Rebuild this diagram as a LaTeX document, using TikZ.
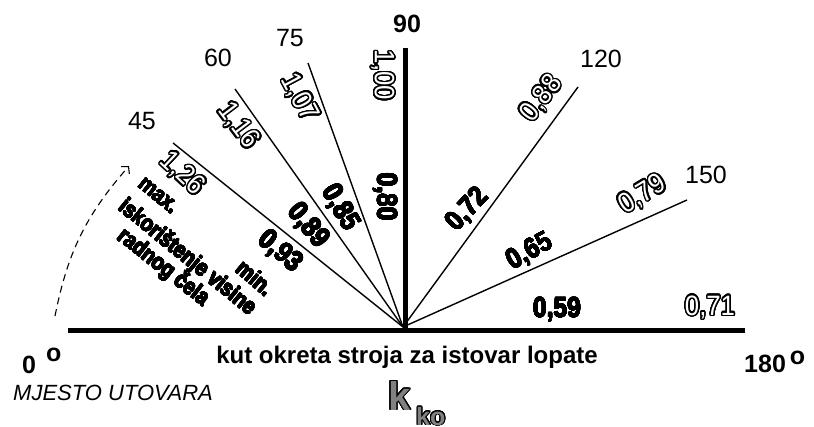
\documentclass[tikz,border=0pt]{standalone}
\usepackage{fontspec}
\setmainfont{Liberation Sans}
\usepackage[copies]{contour}
\usetikzlibrary{arrows.meta}
\contournumber{32}
\newcommand{\outl}[1]{{\contourlength{1.5pt}\textcolor{white}{\contour{black}{#1}}}}
\newcommand{\heavy}[1]{{\contourlength{0.45pt}\contour{black}{#1}}}
\begin{document}
\begin{tikzpicture}[x=1pt,y=-1pt,
  axisline/.style={line width=5pt},
  ray/.style={line width=1.4pt},
  deglbl/.style={font=\fontsize{25}{28}\selectfont, inner sep=0pt},
  bdeg/.style={font=\bfseries\fontsize{25}{28}\selectfont, inner sep=0pt},
  bnum/.style={font=\bfseries\fontsize{28}{30}\selectfont, inner sep=0pt},
  onum/.style={font=\fontsize{28}{30}\selectfont, inner sep=0pt},
  bword/.style={font=\bfseries\fontsize{23}{25}\selectfont, inner sep=0pt}]
\useasboundingbox (0,0) rectangle (814,427);
% axes
\coordinate (O) at (403,327);
\coordinate (hl) at (68,330.5);
\coordinate (hr) at (745,330.5);
\coordinate (vt) at (405.5,48);
\coordinate (vb) at (405.5,333);
\draw[axisline] (hl) -- (hr);
\draw[axisline, line width=5.5pt] (vb) -- (vt);
% rays
\coordinate (e45) at (173,143);
\coordinate (e60) at (235,89);
\coordinate (e75) at (308,63);
\coordinate (e120) at (578,87);
\coordinate (e150) at (687,200);
\foreach \e in {e45,e60,e75,e120,e150} \draw[ray] (O) -- (\e);
% dashed arrow
\coordinate (as) at (55,316);
\coordinate (ae) at (129,166);
\draw[line width=1.1pt, dash pattern=on 7pt off 5pt, -{Straight Barb[length=5pt,width=11pt]}] (as) to[bend left=15] (ae);
% angle labels
\node[deglbl, anchor=base] (d45) at (142,130) {45};
\node[deglbl, anchor=base] (d60) at (218,67) {60};
\node[deglbl, anchor=base] (d75) at (290,47) {75};
\node[bdeg, anchor=base] (d90) at (407,33) {90};
\node[deglbl, anchor=base] (d120) at (601,68) {120};
\node[deglbl, anchor=base] (d150) at (706,184) {150};
\node[bdeg, anchor=base west] (d0) at (22,374) {0\hspace{10pt}\raisebox{12pt}{o}};
\node[bdeg, anchor=base west] (d180) at (744,373) {180\hspace{4pt}\raisebox{8pt}{o}};
% axis texts
\node[font=\bfseries\fontsize{24}{26}\selectfont, inner sep=0pt, anchor=base] (axt) at (407,364) {kut okreta stroja za istovar lopate};
\node[font=\itshape\fontsize{22}{24}\selectfont, inner sep=0pt, anchor=base west] (mj) at (13,401) {MJESTO UTOVARA};
% k_ko
\node[font=\bfseries\fontsize{40}{40}\selectfont, inner sep=0pt, anchor=base west] (kk) at (388,410) {{\contourlength{1pt}\textcolor{gray}{\contour{black}{k}}}};
\node[font=\bfseries\fontsize{25}{25}\selectfont, inner sep=0pt, anchor=base west] (kko) at (416,425) {{\contourlength{1pt}\textcolor{gray}{\contour{black}{ko}}}};
% values
\node[onum, rotate=-43] (n126) at (182,174) {\scalebox{0.92}[1]{\outl{1,26}}};
\node[bword, rotate=-39] (wmax) at (158,196) {\scalebox{0.85}[1]{\heavy{max.}}};
\node[bword, rotate=-39] (wisk) at (187,258) {\scalebox{0.85}[1]{\heavy{iskorištenje visine}}};
\node[bword, rotate=-38] (wrad) at (163,268) {\scalebox{0.85}[1]{\heavy{radnog čela}}};
\node[bnum, rotate=-40] (n093) at (280,252) {\scalebox{0.88}[1]{\heavy{0,93}}};
\node[bword, rotate=-40] (wmin) at (255,278) {\scalebox{0.85}[1]{\heavy{min.}}};
\node[onum, rotate=-53] (n116) at (238,126) {\scalebox{0.92}[1]{\outl{1,16}}};
\node[bnum, rotate=-50] (n089) at (308,226) {\scalebox{0.88}[1]{\heavy{0,89}}};
\node[onum, rotate=-62] (n107) at (299,98) {\scalebox{0.92}[1]{\outl{1,07}}};
\node[bnum, rotate=-60] (n085) at (340,208) {\scalebox{0.88}[1]{\heavy{0,85}}};
\node[onum, rotate=-90] (n100) at (382,75) {\scalebox{0.92}[1]{\outl{1,00}}};
\node[bnum, rotate=-90] (n080) at (385,197) {\scalebox{0.88}[1]{\heavy{0,80}}};
\node[onum, rotate=52] (n088) at (542,99) {\scalebox{0.92}[1]{\outl{0,88}}};
\node[bnum, rotate=47] (n072) at (468,210) {\scalebox{0.88}[1]{\heavy{0,72}}};
\node[onum, rotate=31] (n079) at (643,195) {\scalebox{0.92}[1]{\outl{0,79}}};
\node[bnum, rotate=29] (n065) at (530,252) {\scalebox{0.88}[1]{\heavy{0,65}}};
\node[bnum] (n059) at (557,310) {\scalebox{0.88}[1]{\heavy{0,59}}};
\node[onum] (n071) at (710,308) {\scalebox{0.92}[1]{\outl{0,71}}};
\end{tikzpicture}
\end{document}
